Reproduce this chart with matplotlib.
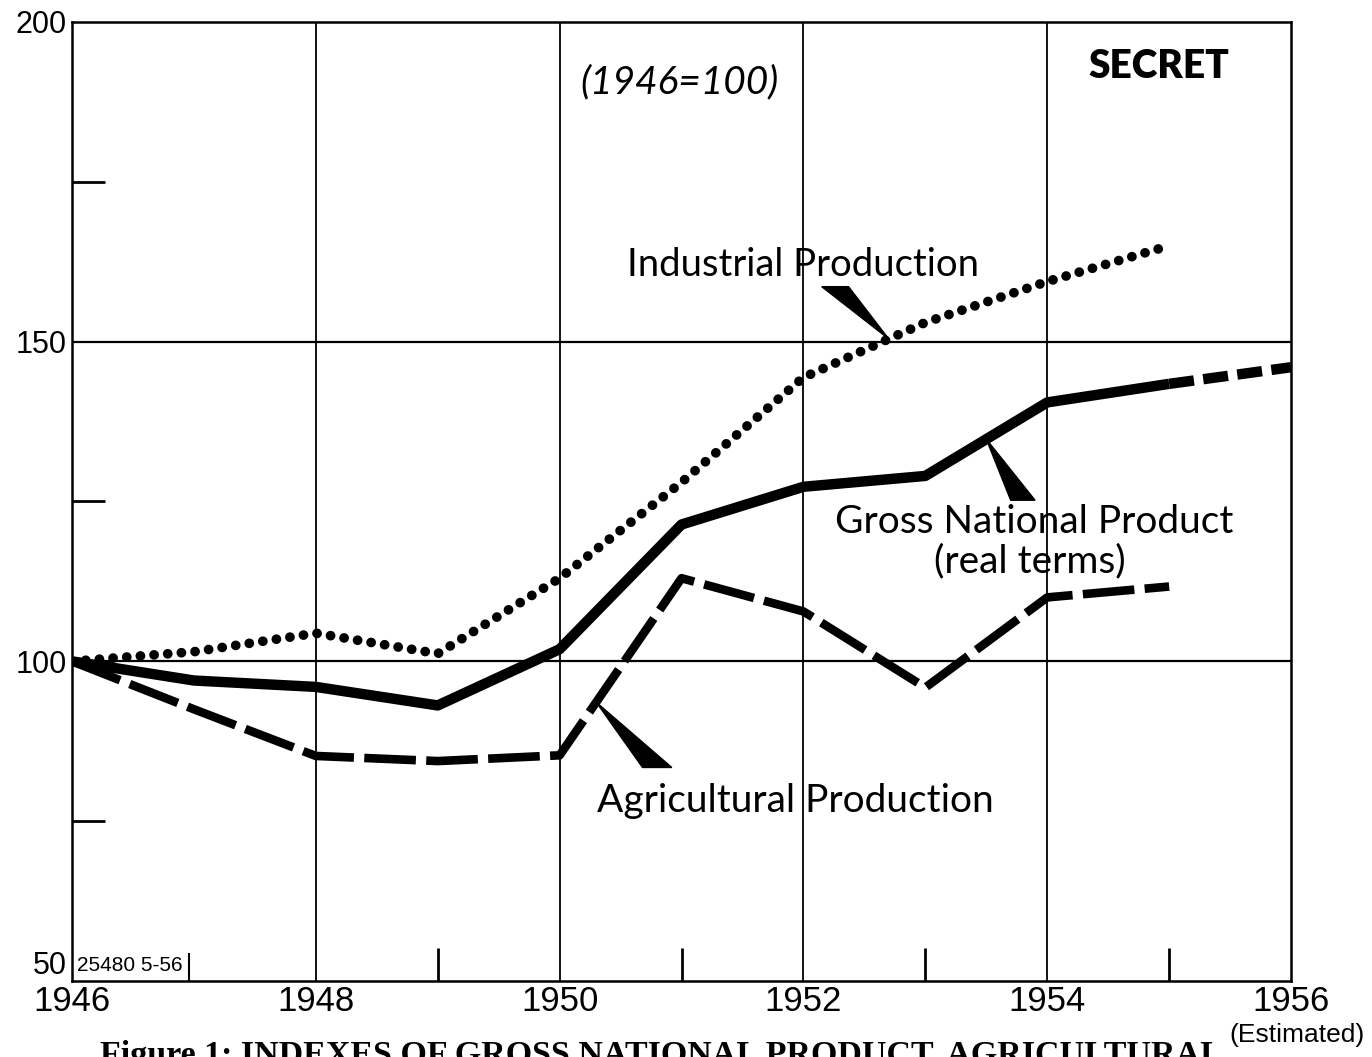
import numpy as np
import matplotlib.pyplot as plt
from matplotlib.patches import Polygon

years = [1946, 1947, 1948, 1949, 1950, 1951, 1952, 1953, 1954, 1955]
industrial = [100, 101.5, 104.4, 101.2, 113, 128, 144.4, 153, 159.4, 165]
gnp = [100, 97, 96, 93.1, 101.9, 121.4, 127.3, 129, 140.5, 143.4]
gnp_est_years = [1955, 1956]
gnp_est = [143.4, 146]
agri = [100, 92.5, 85.2, 84.4, 85.3, 113, 107.8, 95.9, 110, 111.7]

major_years = [1946, 1948, 1950, 1952, 1954, 1956]
minor_years = [1949, 1951, 1953, 1955]
y_labels = [50, 100, 150, 200]
y_minor = [75, 125, 175]

label_font = ['Lato', 'DejaVu Sans']
tick_font = ['Liberation Sans', 'DejaVu Sans']

fig = plt.figure(figsize=(13.72, 10.57), dpi=100)
ax = fig.add_axes([0.0525, 0.0719, 0.8885, 0.9073])
ax.set_xlim(1946, 1956)
ax.set_ylim(50, 200)

# grid
for yr in major_years[1:-1]:
    ax.axvline(yr, color='black', lw=1.3, zorder=1)
for v in [100, 150]:
    ax.axhline(v, color='black', lw=1.6, zorder=1)
for sp in ax.spines.values():
    sp.set_linewidth(1.8)

# series
ax.plot(years, industrial, color='black', lw=7, linestyle=(0, (0.01, 1.4)),
        dash_capstyle='round', zorder=3)
ax.plot(years, gnp, color='black', lw=7.5, solid_joinstyle='round',
        solid_capstyle='butt', zorder=4)
ax.plot(gnp_est_years, gnp_est, color='black', lw=7.5, linestyle=(0, (2.4, 0.9)),
        zorder=4)
ax.plot(years, agri, color='black', lw=6.2, linestyle=(0, (6, 1.2)), zorder=3)

# ticks
ax.set_xticks(major_years)
ax.set_xticklabels([str(y) for y in major_years], fontsize=25, family=tick_font)
ax.set_xticks(minor_years, minor=True)
ax.set_yticks(y_labels)
ax.set_yticklabels([str(v) for v in y_labels], fontsize=22, family=tick_font)
ax.get_yticklabels()[0].set_va('bottom')
ax.set_yticks(y_minor, minor=True)
ax.tick_params(axis='both', which='major', length=0, pad=4)
ax.tick_params(axis='x', which='major', pad=3)
ax.tick_params(axis='both', which='minor', direction='in', length=24, width=2)

# texts
ax.text(1950.98, 190.5, '(1946=100)', fontsize=28, style='italic', family=label_font,
        ha='center', va='center')
ax.text(1954.92, 193.0, 'SECRET', fontsize=28, fontweight='heavy', family=label_font,
        ha='center', va='center')
ax.text(1952.0, 162.0, 'Industrial Production', fontsize=27.5, family=label_font,
        ha='center', va='center')
ax.text(1953.89, 121.8, 'Gross National Product', fontsize=28, family=label_font,
        ha='center', va='center')
ax.text(1953.86, 115.7, '(real terms)', fontsize=28, family=label_font,
        ha='center', va='center')
ax.text(1951.93, 78.2, 'Agricultural Production', fontsize=28, family=label_font,
        ha='center', va='center')

# pointer wedges
def wedge(x_tip, xs, ys, base):
    y_tip = np.interp(x_tip, xs, ys)
    pts = [(x_tip, y_tip)] + base
    ax.add_patch(Polygon(pts, closed=True, color='black', zorder=5))

wedge(1952.7, years, industrial, [(1952.15, 158.6), (1952.37, 158.6)])
wedge(1953.5, years, gnp, [(1953.7, 125.2), (1953.9, 125.2)])
wedge(1950.3, years, agri, [(1950.68, 83.4), (1950.92, 83.4)])

# small id box in bottom-left corner
ax.text(1946.04, 51.0, '25480 5-56', fontsize=15, family=tick_font,
        ha='left', va='bottom')
ax.plot([1946.96, 1946.96], [50, 54.2], color='black', lw=1.5)

fig.text(0.945, 0.021, '(Estimated)', fontsize=19, family=tick_font,
         ha='center', va='center')
fig.text(0.073, 0.016, 'Figure 1: INDEXES OF GROSS NATIONAL PRODUCT, AGRICULTURAL',
         fontsize=24.5, family=['Liberation Serif', 'DejaVu Serif'], fontweight='bold',
         ha='left', va='top')

fig.savefig('out.png', dpi=100)
